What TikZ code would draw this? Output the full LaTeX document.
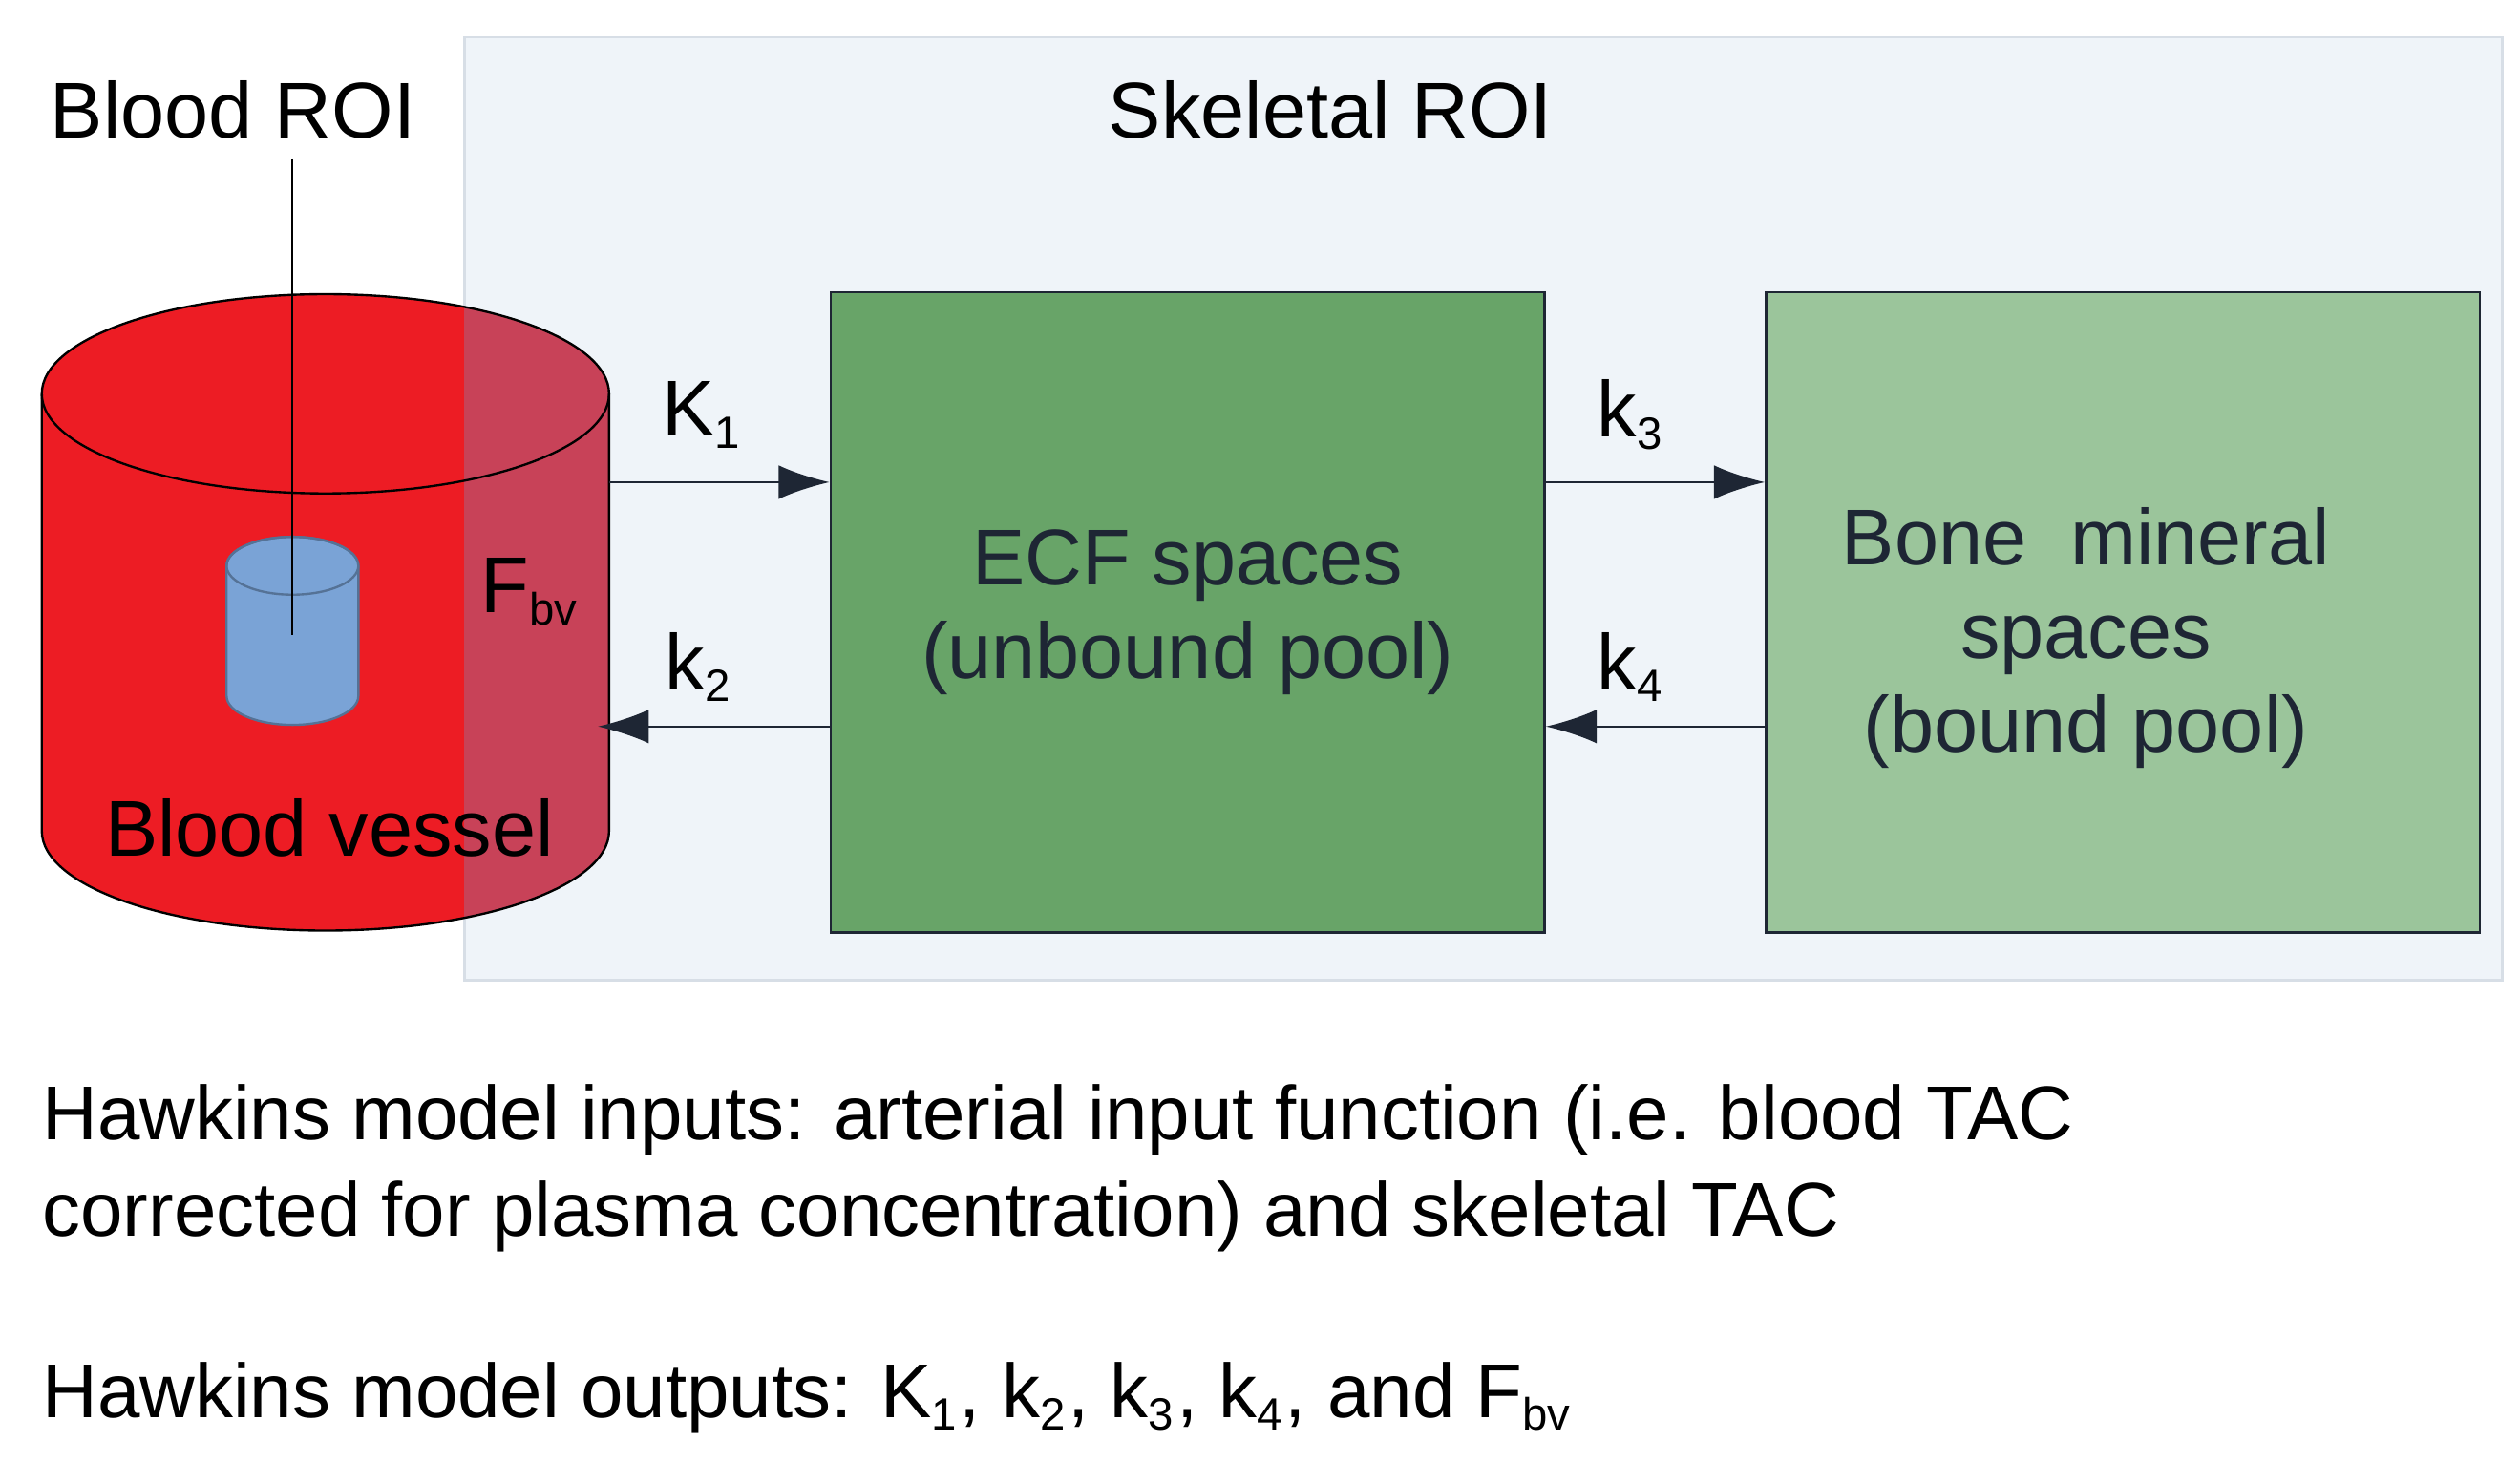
\documentclass[tikz,border=0pt]{standalone}
\usepackage{fontspec}
\setmainfont{Liberation Sans}
\usetikzlibrary{arrows.meta,positioning}
\definecolor{roibg}{RGB}{239,244,249}
\definecolor{roiline}{RGB}{215,222,230}
\definecolor{vessel}{RGB}{237,28,36}
\definecolor{overlap}{RGB}{200,66,88}
\definecolor{probe}{RGB}{122,163,214}
\definecolor{ecfgreen}{RGB}{104,164,104}
\definecolor{bonegreen}{RGB}{155,197,155}
\definecolor{ink}{RGB}{30,38,52}
\newcommand{\rsub}[1]{\textsubscript{\fontsize{8}{8}\selectfont #1}}
\tikzset{
  basic/.style = {font=\fontsize{14}{16.5}\selectfont, text=ink},
  pool/.style  = {draw=ink, thin, minimum width=4.44cm, minimum height=3.98cm,
                  align=center, basic},
  rate/.style  = {font=\fontsize{14}{16}\selectfont, text=black},
  flow/.style  = {-{Latex[length=9pt,width=6pt]}, draw=ink, thin},
  caption/.style = {anchor=west, align=left, font=\fontsize{13.5}{17}\selectfont}
}
\begin{document}
\begin{tikzpicture}[x=0.01cm,y=-0.01cm]
\useasboundingbox (0,0) rectangle (1568,923);

% skeletal region in the background
\draw[roiline, fill=roibg] (289,23) rectangle (1557,610);

% blood vessel cylinder
\fill[vessel] (26,245) -- (26,517) arc[start angle=180,end angle=0,x radius=176.5,y radius=62]
  -- (379,245) arc[start angle=0,end angle=-180,x radius=176.5,y radius=62] -- cycle;
\begin{scope}
  \clip (26,245) -- (26,517) arc[start angle=180,end angle=0,x radius=176.5,y radius=62]
    -- (379,245) arc[start angle=0,end angle=-180,x radius=176.5,y radius=62] -- cycle;
  \fill[overlap] (289,0) rectangle (400,700);
\end{scope}
\draw[thin] (26,245) -- (26,517) arc[start angle=180,end angle=0,x radius=176.5,y radius=62]
  -- (379,245);
\draw[thin] (202.5,245) ellipse[x radius=176.5,y radius=62];

% small blood ROI cylinder
\filldraw[fill=probe, draw=probe!70!black, thin] (141,352) -- (141,433)
  arc[start angle=180,end angle=0,x radius=41,y radius=18] -- (223,352)
  arc[start angle=0,end angle=-180,x radius=41,y radius=18] -- cycle;
\draw[probe!70!black, thin] (182,352) ellipse[x radius=41,y radius=18];

% labels
\node[basic, text=black] (blood) at (145,68) {Blood ROI};
\node[basic, text=black] (skel) at (828,68) {Skeletal ROI};
\node[basic, text=black] (vesseltxt) at (205,515) {Blood vessel};
\node[basic, text=black] (fbv) at (330,368) {F\rsub{bv}};
\coordinate (probe) at (182,395);
\draw[thin] (blood.south -| probe) -- (probe);

% compartments
\node[pool, fill=ecfgreen] (ecf) at (739,381) {ECF spaces\\(unbound pool)};
\node[pool, fill=bonegreen] (bone) at (1321,381) {};
\node[basic, align=center] (bonetxt) at (1298,397) {Bone\ \ mineral\\spaces\\(bound pool)};

\coordinate (vin) at (379,300);
\coordinate (vout) at (372,452);

% exchange arrows
\draw[flow] (vin) -- (vin -| ecf.west);
\draw[flow] (vout -| ecf.west) -- (vout);
\draw[flow] (vin -| ecf.east) -- (vin -| bone.west);
\draw[flow] (vout -| bone.west) -- (vout -| ecf.east);
\node[rate] (k1) at (437,258) {K\rsub{1}};
\node[rate] (k2) at (435,415) {k\rsub{2}};
\node[rate] (k3) at (1015,258) {k\rsub{3}};
\node[rate] (k4) at (1015,415) {k\rsub{4}};

% model description
\node[caption] (inputs) at (14,727) {Hawkins model inputs: arterial input function (i.e. blood TAC\\corrected for plasma concentration) and skeletal TAC};
\node[caption] (outputs) at (14,870) {Hawkins model outputs: K\rsub{1}, k\rsub{2}, k\rsub{3}, k\rsub{4}, and F\rsub{bv}};
\end{tikzpicture}
\end{document}
